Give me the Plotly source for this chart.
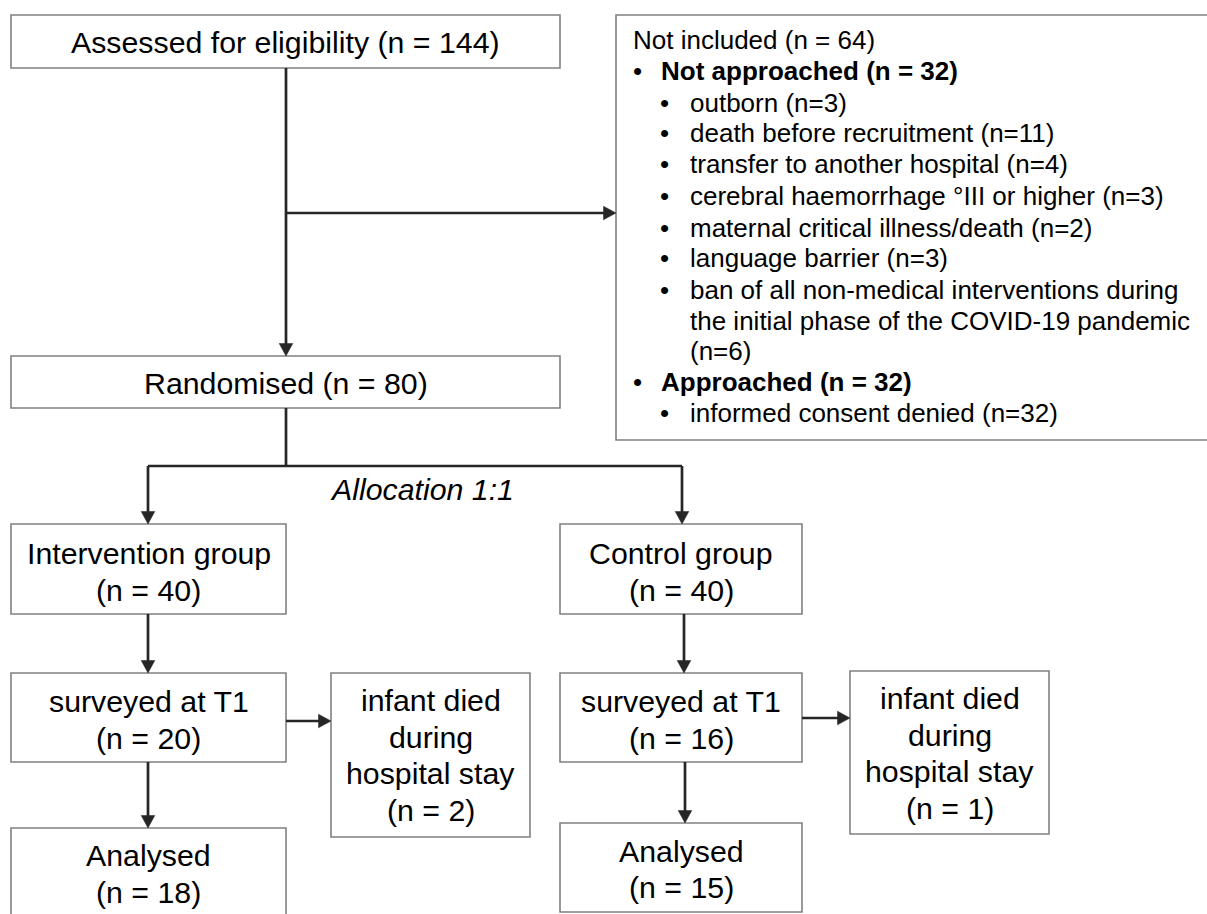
import plotly.graph_objects as go

# ---------------- data ----------------
assessed_label = "Assessed for eligibility"
assessed_n = 144
randomised_label = "Randomised"
randomised_n = 80
not_included_n = 64
not_approached_n = 32
not_approached_reasons = [
    "outborn",
    "death before recruitment",
    "transfer to another hospital",
    "cerebral haemorrhage °III or higher",
    "maternal critical illness/death",
    "language barrier",
    "ban of all non-medical interventions during<br>the initial phase of the COVID-19 pandemic<br>",
]
not_approached_counts = [3, 11, 4, 3, 2, 3, 6]
approached_n = 32
approached_reasons = ["informed consent denied"]
approached_counts = [32]
allocation_label = "Allocation 1:1"
group_labels = ["Intervention group", "Control group"]
group_n = [40, 40]
surveyed_label = "surveyed at T1"
surveyed_n = [20, 16]
died_label = ["infant died", "during", "hospital stay"]
died_n = [2, 1]
analysed_label = "Analysed"
analysed_n = [18, 15]

# ---------------- layout geometry (pixels) ----------------
W, H = 1207, 914
BORDER = "#808080"
ARROW = "#262626"
FONT = "Arial, Liberation Sans, sans-serif"
BIG = 30.3
SMALL = 26

boxes = {
    "assessed": (11, 560, 15, 68),
    "notincl": (616, 1215, 15, 440),
    "random": (11, 560, 356, 408),
    "interv": (11, 286, 524, 614),
    "control": (560, 802, 524, 614),
    "surv_i": (11, 286, 673, 762),
    "surv_c": (560, 802, 673, 762),
    "died_i": (331, 530, 673, 837),
    "died_c": (850, 1049, 671, 834),
    "anal_i": (11, 286, 828, 940),
    "anal_c": (560, 802, 823, 912),
}

fig = go.Figure()
shapes = []
annotations = []

for key, (x0, x1, y0, y1) in boxes.items():
    shapes.append(dict(type="rect", x0=x0, x1=x1, y0=y0, y1=y1,
                       line=dict(color=BORDER, width=1.6), fillcolor="white", layer="below"))


def line(x0, y0, x1, y1):
    shapes.append(dict(type="line", x0=x0, y0=y0, x1=x1, y1=y1,
                       line=dict(color=ARROW, width=2.7)))


def arrow(x0, y0, x1, y1):
    L, Hw = 12.5, 6.8
    if x0 == x1:  # vertical (downward)
        line(x0, y0, x1, y1 - L + 1)
        path = f"M {x1-Hw},{y1-L} L {x1+Hw},{y1-L} L {x1},{y1} Z"
    else:  # horizontal (rightward)
        line(x0, y0, x1 - L + 1, y1)
        path = f"M {x1-L},{y1-Hw} L {x1-L},{y1+Hw} L {x1},{y1} Z"
    shapes.append(dict(type="path", path=path, fillcolor=ARROW,
                       line=dict(color=ARROW, width=0.5)))


def text(x, y, s, size=BIG, xanchor="center", bold=False, italic=False):
    if bold:
        s = f"<b>{s}</b>"
    if italic:
        s = f"<i>{s}</i>"
    annotations.append(dict(x=x, y=y, text=s, showarrow=False, xanchor=xanchor,
                            yanchor="middle", font=dict(family=FONT, size=size, color="black")))


def cx(k):
    return (boxes[k][0] + boxes[k][1]) / 2

# connectors
arrow(286, 68, 286, 356)
arrow(286, 213, 616, 213)
line(286, 408, 286, 466)
line(148, 466, 682, 466)
arrow(148, 466, 148, 524)
arrow(682, 466, 682, 524)
arrow(148, 614, 148, 673)
arrow(684, 614, 684, 673)
arrow(286, 721, 331, 721)
arrow(802, 718, 850, 718)
arrow(148, 762, 148, 828)
arrow(685, 762, 685, 823)

# main texts
text(cx("assessed"), 42, f"{assessed_label} (n = {assessed_n})")
text(cx("random"), 383, f"{randomised_label} (n = {randomised_n})")
text(422, 489, allocation_label, italic=True)

for k, lbl, n in [("interv", group_labels[0], group_n[0]), ("control", group_labels[1], group_n[1])]:
    text(cx(k), 553, lbl)
    text(cx(k), 590, f"(n = {n})")
for k, n in [("surv_i", surveyed_n[0]), ("surv_c", surveyed_n[1])]:
    text(cx(k), 701, surveyed_label)
    text(cx(k), 738, f"(n = {n})")
for k, n, ys in [("died_i", died_n[0], [700, 737, 773, 810]), ("died_c", died_n[1], [698, 735, 771, 808])]:
    for yy, s in zip(ys, died_label + [f"(n = {n})"]):
        text(cx(k), yy, s)
for k, n, ys in [("anal_i", analysed_n[0], [855, 892]), ("anal_c", analysed_n[1], [851, 887])]:
    text(cx(k), ys[0], analysed_label)
    text(cx(k), ys[1], f"(n = {n})")

# not-included list
lines = [(0, f"Not included (n = {not_included_n})", False)]
lines.append((1, f"Not approached (n = {not_approached_n})", True))
for r, c in zip(not_approached_reasons, not_approached_counts):
    parts = (r + f"(n={c})") if r.endswith("<br>") else (r + f" (n={c})")
    for j, p in enumerate(parts.split("<br>")):
        lines.append((2 if j == 0 else 3, p, False))
lines.append((1, f"Approached (n = {approached_n})", True))
for r, c in zip(approached_reasons, approached_counts):
    lines.append((2, f"{r} (n={c})", False))

ly = [40, 71, 103, 133, 164, 196, 228, 258, 290, 321, 351, 382, 413]
for (lvl, s, b), yy in zip(lines, ly):
    if lvl == 0:
        text(631, yy, s, size=SMALL, xanchor="left")
    elif lvl == 1:
        text(631, yy, "•", size=SMALL, xanchor="left")
        text(659, yy, s, size=SMALL, xanchor="left", bold=b)
    elif lvl == 2:
        text(658, yy, "•", size=SMALL, xanchor="left")
        text(688, yy, s, size=SMALL, xanchor="left")
    else:
        text(688, yy, s, size=SMALL, xanchor="left")

fig.update_layout(
    width=W, height=H,
    margin=dict(l=0, r=0, t=0, b=0),
    paper_bgcolor="white", plot_bgcolor="white",
    xaxis=dict(range=[0, W], visible=False, fixedrange=True),
    yaxis=dict(range=[H, 0], visible=False, fixedrange=True),
    shapes=shapes, annotations=annotations, showlegend=False,
)
fig.write_html(
    "out.html",
    config={"displayModeBar": False},
    post_script="document.body.style.margin='0';document.body.style.overflow='hidden';",
)
